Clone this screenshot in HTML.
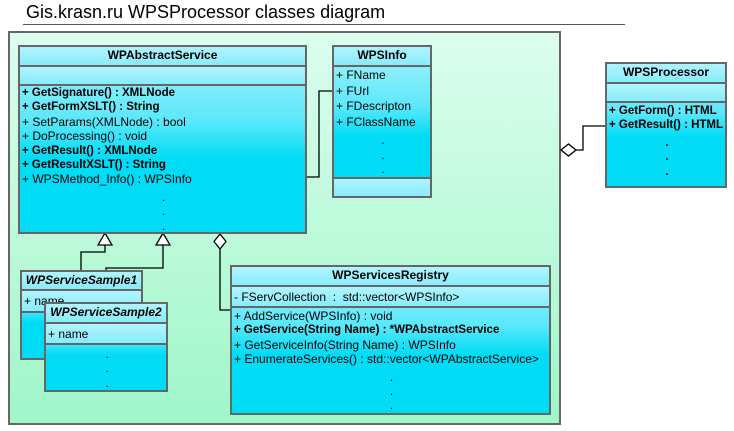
<!DOCTYPE html>
<html><head><meta charset="utf-8"><style>
body{margin:0;width:734px;height:431px;background:#fff;position:relative;overflow:hidden;font-family:"Liberation Sans",sans-serif;font-size:12px;color:#000}
.a{position:absolute;box-sizing:border-box}
.box{position:absolute;box-sizing:border-box;border:2px solid #666;background:linear-gradient(#a8f2fd,#5ae8fa 40%,#00dcf6 60%,#00dcf6)}
.hd{position:absolute;left:0;right:0;box-sizing:border-box;background:linear-gradient(#b0f4fe,#88ecfb);border-bottom:2px solid #666;text-align:center;font-weight:bold;font-size:12px}
.sec{position:absolute;left:0;right:0;box-sizing:border-box;background:linear-gradient(#b0f4fe,#88ecfb);border-bottom:2px solid #666}
.rows{position:absolute;left:2px;right:0;line-height:14.4px;white-space:nowrap}
.b{font-weight:bold;font-size:11.5px}
.d{text-align:center}
.dots{padding-top:3px}
</style></head><body>
<div class="a" style="left:26px;top:2px;font-size:18px;color:#000">Gis.krasn.ru WPSProcessor classes diagram</div>
<div class="a" style="left:23px;top:24px;width:602px;height:1px;background:#555"></div>
<div class="a" style="left:8px;top:31px;width:553px;height:394px;border:2px solid #666;background:linear-gradient(#dcfdef,#9ff6c8)"></div>

<svg class="a" style="left:0;top:0" width="734" height="431">
<g fill="none" stroke="#000" stroke-width="1.3">
<polyline points="306,177 319,177 319,91 332,91"/>
<polyline points="576,150 583,150 583,126 605,126"/>
<polyline points="105,245 105,252 81,252 81,271"/>
<polyline points="163,245 163,268 106,268 106,303"/>
<polyline points="220,249 220,310 230,310"/>
</g>
<g fill="#fff" stroke="#000" stroke-width="1.3">
<polygon points="105,233 98,245 112,245"/>
<polygon points="163,233 156,245 170,245"/>
<polygon points="220,234 214,241.5 220,249 226,241.5"/>
<polygon points="561,150 568.5,144 576,150 568.5,156"/>
</g>
</svg>

<div class="box" style="left:18px;top:45px;width:289px;height:189px">
<div class="hd" style="top:0;height:20px;line-height:17px">WPAbstractService</div>
<div class="sec" style="top:20px;height:19px"></div>
<div class="rows" style="top:39px">
<div class="b">+ GetSignature() : XMLNode</div>
<div class="b">+ GetFormXSLT() : String</div>
<div>+ SetParams(XMLNode) : bool</div>
<div>+ DoProcessing() : void</div>
<div class="b">+ GetResult() : XMLNode</div>
<div class="b">+ GetResultXSLT() : String</div>
<div>+ WPSMethod_Info() : WPSInfo</div>
<div class="dots"><div class="d">.</div><div class="d">.</div><div class="d">.</div></div>
</div></div>

<div class="box" style="left:332px;top:45px;width:100px;height:153px">
<div class="hd" style="top:0;height:20px;line-height:17px">WPSInfo</div>
<div class="rows" style="top:21px;line-height:15.5px">
<div>+ FName</div><div>+ FUrl</div><div>+ FDescripton</div><div>+ FClassName</div>
<div class="dots"><div class="d" style="line-height:14.5px">.</div><div class="d" style="line-height:14.5px">.</div><div class="d" style="line-height:14.5px">.</div></div>
</div>
<div class="sec" style="top:130px;height:19px;border-bottom:none;border-top:2px solid #666"></div>
</div>

<div class="box" style="left:605px;top:62px;width:122px;height:126px">
<div class="hd" style="top:0;height:20px;line-height:17px">WPSProcessor</div>
<div class="sec" style="top:20px;height:19px"></div>
<div class="rows b" style="top:40px">
<div>+ GetForm() : HTML</div><div>+ GetResult() : HTML</div>
<div class="dots"><div class="d">.</div><div class="d">.</div><div class="d">.</div></div>
</div></div>

<div class="box" style="left:20px;top:270px;width:123px;height:90px">
<div class="hd" style="top:0;height:19px;line-height:16px;font-style:italic">WPServiceSample1</div>
<div class="sec" style="top:19px;height:22px"></div>
<div class="rows" style="top:22px">+ name</div>
</div>

<div class="box" style="left:44px;top:302px;width:124px;height:90px">
<div class="hd" style="top:0;height:20px;line-height:17px;font-style:italic">WPServiceSample2</div>
<div class="sec" style="top:20px;height:21px"></div>
<div class="rows" style="top:22px;line-height:17px">+ name</div>
<div class="rows d" style="top:43px;line-height:14.4px"><div>.</div><div>.</div><div>.</div></div>
</div>

<div class="box" style="left:230px;top:265px;width:321px;height:150px">
<div class="hd" style="top:0;height:20px;line-height:17px">WPServicesRegistry</div>
<div class="sec" style="top:20px;height:21px"></div>
<div class="rows" style="top:22px;line-height:17px">- FServCollection&nbsp; : &nbsp;std::vector&lt;WPSInfo&gt;</div>
<div class="rows" style="top:42px">
<div>+ AddService(WPSInfo) : void</div>
<div class="b">+ GetService(String Name) : *WPAbstractService</div>
<div>+ GetServiceInfo(String Name) : WPSInfo</div>
<div>+ EnumerateServices() : std::vector&lt;WPAbstractService&gt;</div>
<div class="dots"><div class="d">.</div><div class="d">.</div><div class="d">.</div></div>
</div></div>
</body></html>
